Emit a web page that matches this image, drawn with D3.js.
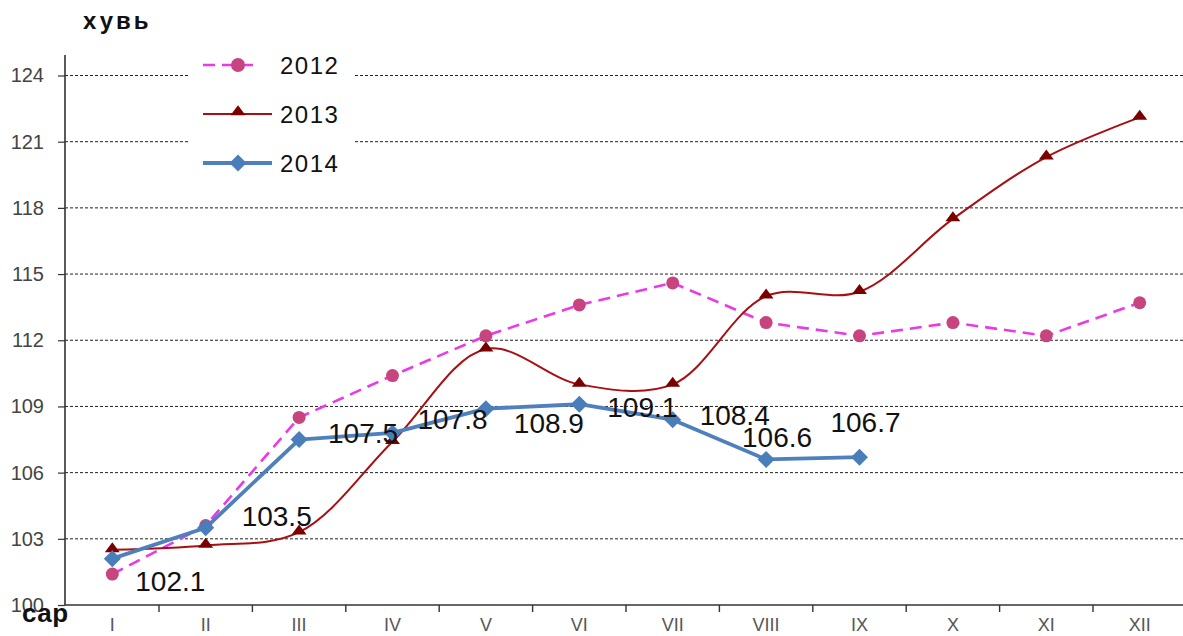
<!DOCTYPE html>
<html><head><meta charset="utf-8">
<script src="https://cdn.jsdelivr.net/npm/d3@7"></script>
<style>
html,body{margin:0;padding:0;background:#fff;overflow:hidden}
svg{display:block;font-family:"Liberation Sans",Arial,sans-serif}
</style></head>
<body>
<svg id="chart" width="1183" height="636"></svg>
<script>
const months = ["I","II","III","IV","V","VI","VII","VIII","IX","X","XI","XII"];
const years = ["2012","2013","2014"];
const s2012 = [101.4,103.6,108.5,110.4,112.2,113.6,114.6,112.8,112.2,112.8,112.2,113.7];
const s2013 = [102.5,102.7,103.3,107.4,111.6,110.0,110.0,114.0,114.2,117.5,120.3,122.1];
const s2014 = [102.1,103.5,107.5,107.8,108.9,109.1,108.4,106.6,106.7];
const yTicks = [100,103,106,109,112,115,118,121,124];
const yTitle = "хувь";
const xTitle = "сар";

// label placement offsets (layout only)
const labelOffsets = [[58,23],[71,-11],[64,-6],[60,-13],[63,15],[63,3],[62,-4],[11,-22],[6,-35]];

const svg = d3.select("#chart");
const x = d3.scaleBand().domain(months).range([65.6, 1186.4]).padding(0);
const y = d3.scaleLinear().domain([100,124]).range([605, 75.5]);
const cx = m => x(m) + x.bandwidth()/2;

// gridlines
svg.append("g").selectAll("line").data(yTicks.filter(t => t > 100)).join("line")
  .attr("x1", 65).attr("x2", 1183)
  .attr("y1", d => y(d)).attr("y2", d => y(d))
  .attr("stroke", "#222").attr("stroke-width", 1).attr("stroke-dasharray", "3,2");

// legend background
svg.append("rect").attr("x", 190).attr("y", 45).attr("width", 163).attr("height", 143).attr("fill", "#fff");

// y axis
const yAxis = d3.axisLeft(y).tickValues(yTicks).tickSize(7).tickPadding(14).tickFormat(d3.format("d"));
const gy = svg.append("g").attr("transform", "translate(65,0)").call(yAxis);
gy.select(".domain").remove();
gy.selectAll(".tick line").attr("stroke", "#333").attr("stroke-width", 1.2);
gy.selectAll(".tick text").attr("font-size", 20).attr("fill", "#444")
  .attr("font-family", "Liberation Sans, Arial, sans-serif");
svg.append("line").attr("x1", 65).attr("x2", 65).attr("y1", 55).attr("y2", 605)
  .attr("stroke", "#333").attr("stroke-width", 1.6);

// x axis
svg.append("line").attr("x1", 65).attr("x2", 1183).attr("y1", 605).attr("y2", 605)
  .attr("stroke", "#333").attr("stroke-width", 1.6);
svg.append("g").selectAll("line").data(months.slice(1)).join("line")
  .attr("x1", d => x(d)).attr("x2", d => x(d)).attr("y1", 605).attr("y2", 612)
  .attr("stroke", "#333").attr("stroke-width", 1.4);
svg.append("g").selectAll("text").data(months).join("text")
  .attr("x", d => cx(d)).attr("y", 631)
  .attr("text-anchor", "middle").attr("font-size", 18).attr("fill", "#555")
  .text(d => d);

// axis titles
svg.append("text").attr("x", 83).attr("y", 29).attr("font-size", 24).attr("font-weight", "bold")
  .attr("letter-spacing", 3).attr("fill", "#111").text(yTitle);
svg.append("text").attr("x", 22).attr("y", 622).attr("font-size", 26).attr("font-weight", "bold")
  .attr("letter-spacing", 0.5).attr("fill", "#111").text(xTitle);

// series
const c2012 = "#e83ae8", m2012 = "#c8447f";
const c2013 = "#a80f12", m2013 = "#7a0000";
const c2014 = "#4e80bd", m2014 = "#4a7ebb";

const line2012 = d3.line().x((d,i) => cx(months[i])).y(d => y(d)).curve(d3.curveLinear);
const line2013 = d3.line().x((d,i) => cx(months[i])).y(d => y(d)).curve(d3.curveCatmullRom.alpha(0.5));
const line2014 = d3.line().x((d,i) => cx(months[i])).y(d => y(d)).curve(d3.curveLinear);

const tri = d3.symbol().type(d3.symbolTriangle).size(80);
const dia = (px, py, r) => `M${px},${py-r}L${px+r},${py}L${px},${py+r}L${px-r},${py}Z`;

// 2012
svg.append("path").datum(s2012).attr("d", line2012).attr("fill", "none")
  .attr("stroke", c2012).attr("stroke-width", 2.6).attr("stroke-dasharray", "12,7");
svg.append("g").selectAll("circle").data(s2012).join("circle")
  .attr("cx", (d,i) => cx(months[i])).attr("cy", d => y(d)).attr("r", 6.5).attr("fill", m2012);

// 2013
svg.append("path").datum(s2013).attr("d", line2013).attr("fill", "none")
  .attr("stroke", c2013).attr("stroke-width", 2);
svg.append("g").selectAll("path").data(s2013).join("path")
  .attr("d", tri).attr("transform", (d,i) => `translate(${cx(months[i])},${y(d)-1}) scale(1.1,0.85)`)
  .attr("fill", m2013);

// 2014
svg.append("path").datum(s2014).attr("d", line2014).attr("fill", "none")
  .attr("stroke", c2014).attr("stroke-width", 3.8).attr("stroke-linejoin", "round");
svg.append("g").selectAll("path").data(s2014).join("path")
  .attr("d", (d,i) => dia(cx(months[i]), y(d), 8.5)).attr("fill", m2014);

// data labels
svg.append("g").selectAll("text").data(s2014).join("text")
  .attr("x", (d,i) => cx(months[i]) + labelOffsets[i][0])
  .attr("y", (d,i) => y(d) + labelOffsets[i][1])
  .attr("text-anchor", "middle").attr("dominant-baseline", "central")
  .attr("font-size", 28).attr("fill", "#111")
  .text(d => d3.format(".1f")(d));

// legend
const lg = svg.append("g");
const rows = [
  {name: years[0], y: 65, color: c2012, dash: "12,7", w: 2.6, x2: 260},
  {name: years[1], y: 114, color: c2013, dash: null, w: 2, x2: 272},
  {name: years[2], y: 163, color: c2014, dash: null, w: 3.8, x2: 272}
];
rows.forEach((r, i) => {
  const l = lg.append("line").attr("x1", 203).attr("x2", r.x2).attr("y1", r.y).attr("y2", r.y)
    .attr("stroke", r.color).attr("stroke-width", r.w);
  if (r.dash) l.attr("stroke-dasharray", r.dash);
  if (i === 0) lg.append("circle").attr("cx", 238).attr("cy", r.y).attr("r", 7).attr("fill", m2012);
  if (i === 1) lg.append("path").attr("d", tri).attr("transform", `translate(238,${r.y-2}) scale(1.1,0.85)`).attr("fill", m2013);
  if (i === 2) lg.append("path").attr("d", dia(238, r.y, 8.5)).attr("fill", m2014);
  lg.append("text").attr("x", 280).attr("y", r.y).attr("dominant-baseline", "central")
    .attr("font-size", 24).attr("letter-spacing", 1.5).attr("fill", "#111").text(r.name);
});
</script>
</body></html>
